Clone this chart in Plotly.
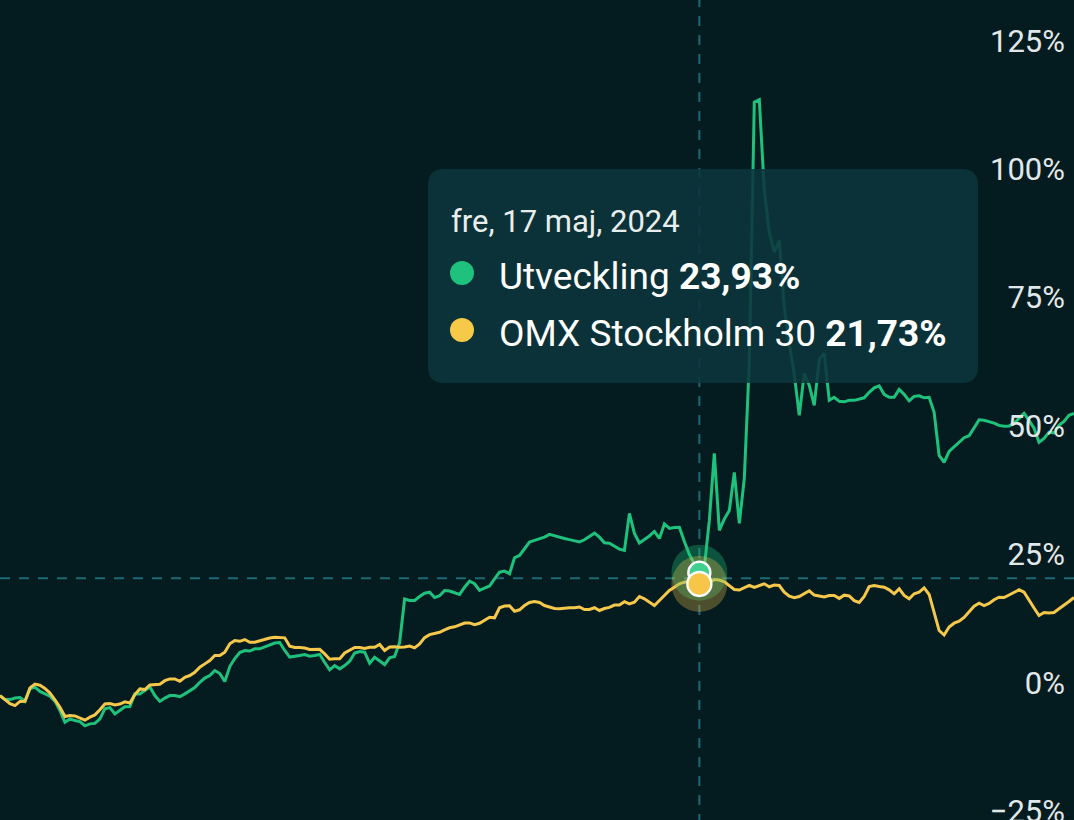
import plotly.graph_objects as go
import pandas as pd

# ---------------- data ----------------
dates = pd.bdate_range("2023-11-03", periods=216).strftime("%Y-%m-%d").tolist()
hover_date = "2024-05-17"

series_names = ["Utveckling", "OMX Stockholm 30"]

utveckling = [
    0.00, -0.78, -0.78, -0.49, -0.39, -1.11, 1.31, 1.64, 0.82, 0.27,
    -0.12, -1.07, -2.92, -5.20, -4.54, -4.87, -5.07, -5.88, -5.51, -5.42,
    -4.54, -2.59, -2.34, -3.57, -2.92, -2.18, -2.14, 0.33, 0.29, 0.97,
    1.66, 0.00, -1.13, -0.49, 0.00, 0.00, -0.23, 0.33, 0.97, 1.56,
    2.59, 3.41, 3.90, 4.87, 4.29, 2.73, 5.65, 7.21, 8.38, 8.77,
    8.67, 9.10, 9.10, 9.45, 9.84, 10.23, 10.33, 8.77, 7.50, 7.60,
    7.79, 7.99, 7.66, 7.79, 7.99, 6.43, 5.01, 5.84, 5.20, 5.84,
    6.68, 8.28, 8.57, 8.44, 6.29, 7.46, 6.68, 6.04, 7.34, 7.60,
    10.33, 18.80, 18.51, 18.51, 19.29, 19.93, 20.12, 19.09, 19.42, 20.46,
    20.34, 19.99, 19.68, 21.10, 22.27, 21.76, 20.46, 20.94, 21.33, 22.73,
    24.02, 24.22, 23.71, 26.83, 27.27, 28.58, 29.87, 30.20, 30.53, 30.84,
    31.37, 31.07, 30.84, 30.59, 30.35, 30.14, 29.92, 30.33, 31.03, 31.62,
    30.84, 29.73, 29.65, 29.03, 28.50, 28.25, 35.46, 31.56, 29.71, 30.39,
    31.07, 31.95, 30.59, 33.41, 32.53, 32.73, 32.77, 30.00, 27.47, 25.62,
    23.93, 24.94, 34.09, 47.15, 32.15, 34.39, 36.04, 43.44, 33.51, 42.28,
    64.81, 115.53, 116.01, 98.38, 90.20, 86.31, 88.64, 75.59, 68.38, 62.54,
    54.55, 62.73, 60.39, 56.50, 65.46, 66.63, 57.47, 58.06, 57.28, 57.18,
    57.47, 57.47, 57.67, 57.96, 59.03, 59.91, 60.30, 58.64, 58.06, 58.06,
    59.61, 58.64, 57.37, 58.25, 58.35, 57.96, 58.06, 55.13, 46.76, 45.39,
    47.54, 48.45, 49.23, 50.20, 50.59, 52.21, 53.67, 53.58, 53.38, 53.05,
    52.60, 52.41, 52.45, 52.99, 53.97, 54.94, 53.58, 52.06, 49.29, 50.07,
    51.24, 51.14, 52.60, 53.38, 54.55, 54.94,
]

omx = [
    0.00, -0.84, -1.56, -1.95, -1.13, -1.11, 1.50, 2.24, 2.01, 1.40,
    0.49, -0.82, -2.28, -4.09, -3.90, -3.96, -4.34, -4.79, -4.19, -3.76,
    -2.77, -1.64, -1.54, -1.81, -1.64, -1.21, -1.44, 0.19, 1.29, 1.17,
    2.07, 2.16, 2.22, 2.90, 3.25, 3.25, 2.79, 3.57, 3.90, 4.54,
    5.51, 6.17, 6.82, 7.79, 7.79, 8.44, 10.07, 10.70, 10.56, 10.91,
    10.38, 10.38, 10.68, 10.99, 11.20, 11.36, 11.36, 11.24, 9.60, 9.35,
    9.35, 9.25, 8.96, 8.96, 9.00, 8.12, 7.07, 7.15, 7.17, 8.28,
    8.77, 9.35, 9.37, 9.16, 9.39, 9.41, 9.94, 8.77, 9.45, 9.51,
    9.41, 9.45, 9.64, 9.29, 10.05, 11.28, 11.86, 12.10, 12.33, 12.80,
    13.19, 13.38, 13.70, 14.12, 14.14, 13.79, 14.07, 14.73, 15.23, 15.14,
    17.10, 17.42, 17.49, 16.42, 16.70, 17.53, 18.12, 18.31, 18.12, 17.53,
    17.20, 16.95, 16.89, 17.01, 17.09, 17.10, 17.24, 16.75, 16.77, 17.10,
    16.56, 16.95, 17.16, 17.61, 17.65, 18.27, 17.86, 18.18, 19.29, 18.84,
    18.18, 17.53, 18.51, 19.48, 20.46, 21.10, 21.76, 22.07, 22.27, 21.92,
    21.73, 21.82, 22.01, 22.60, 22.50, 22.13, 21.43, 20.65, 20.55, 20.94,
    21.43, 21.04, 21.43, 21.76, 21.18, 21.53, 21.43, 20.13, 19.37, 19.04,
    19.29, 19.81, 20.40, 19.56, 19.33, 19.19, 19.48, 19.48, 18.92, 19.54,
    19.39, 18.47, 18.12, 19.29, 21.24, 21.43, 21.24, 21.10, 20.59, 19.81,
    20.78, 19.48, 18.84, 19.81, 20.12, 20.96, 19.68, 15.98, 12.66, 11.79,
    13.35, 14.09, 14.47, 15.20, 16.40, 17.40, 17.98, 17.53, 17.92, 18.66,
    19.15, 19.09, 19.58, 20.01, 20.59, 20.12, 18.51, 17.05, 15.59, 16.17,
    16.07, 16.17, 16.89, 17.53, 18.31, 19.09,
]

y_ticks = [-25, 0, 25, 50, 75, 100, 125]
y_ticktext = ["\u221225%", "0%", "25%", "50%", "75%", "100%", "125%"]

weekday_sv = ["mån", "tis", "ons", "tor", "fre", "lör", "sön"]
month_sv = ["jan", "feb", "mar", "apr", "maj", "jun", "jul", "aug", "sep", "okt", "nov", "dec"]

# ---------------- style ----------------
W, H = 1074, 824          # bottom 4 px fall below the 820 px window, like the reference
BG = "#041b1f"
GREEN = "#1ec27d"
YELLOW = "#f5c84c"
CROSS = "#1b6a74"
FONT = "Roboto"

hi = dates.index(hover_date)
g_val = utveckling[hi]
y_val = omx[hi]
cross_y = (g_val + y_val) / 2

def fmt(v):
    return f"{v:.2f}".replace(".", ",") + "%"

d = pd.Timestamp(hover_date)
date_label = f"{weekday_sv[d.weekday()]}, {d.day} {month_sv[d.month - 1]}, {d.year}"

fig = go.Figure()

fig.add_trace(go.Scatter(x=dates, y=utveckling, mode="lines", name=series_names[0],
                         line=dict(color=GREEN, width=3), hoverinfo="skip"))
fig.add_trace(go.Scatter(x=dates, y=omx, mode="lines", name=series_names[1],
                         line=dict(color=YELLOW, width=3), hoverinfo="skip"))

# hover markers (halo + dot)
fig.add_trace(go.Scatter(x=[hover_date], y=[g_val], mode="markers", hoverinfo="skip",
                         marker=dict(size=56, color="rgba(30,194,125,0.33)", line=dict(width=0))))
fig.add_trace(go.Scatter(x=[hover_date], y=[y_val], mode="markers", hoverinfo="skip",
                         marker=dict(size=56, color="rgba(245,200,76,0.30)", line=dict(width=0))))
fig.add_trace(go.Scatter(x=[hover_date], y=[g_val], mode="markers", hoverinfo="skip",
                         marker=dict(size=22, color="#3fcf8e", line=dict(width=2.4, color="white"))))
fig.add_trace(go.Scatter(x=[hover_date], y=[y_val], mode="markers", hoverinfo="skip",
                         marker=dict(size=24, color="#f7c548", line=dict(width=2.4, color="white"))))

shapes = []
# crosshair
shapes.append(dict(type="line", xref="x", yref="paper", x0=hover_date, x1=hover_date, y0=0, y1=1,
                   line=dict(color=CROSS, width=2, dash="10px,9px"), layer="below"))
shapes.append(dict(type="line", xref="paper", yref="y", x0=0, x1=1, y0=cross_y, y1=cross_y,
                   line=dict(color=CROSS, width=2, dash="10px,9px"), layer="below"))

# tooltip box (rounded)
def px(x):
    return x / W

def py(y):
    return 1 - y / H

L, R, T, B, r = 428, 978, 169, 383, 16
path = (
    f"M {px(L + r)} {py(T)} L {px(R - r)} {py(T)} Q {px(R)} {py(T)} {px(R)} {py(T + r)} "
    f"L {px(R)} {py(B - r)} Q {px(R)} {py(B)} {px(R - r)} {py(B)} "
    f"L {px(L + r)} {py(B)} Q {px(L)} {py(B)} {px(L)} {py(B - r)} "
    f"L {px(L)} {py(T + r)} Q {px(L)} {py(T)} {px(L + r)} {py(T)} Z"
)
shapes.append(dict(type="path", xref="paper", yref="paper", path=path,
                   fillcolor="rgba(12,54,60,0.88)", line=dict(width=0), layer="above"))

# legend dots in tooltip
for cy, col in [(273, GREEN), (330, "#f7c948")]:
    shapes.append(dict(type="circle", xref="paper", yref="paper",
                       x0=px(462 - 12), x1=px(462 + 12), y0=py(cy + 12), y1=py(cy - 12),
                       fillcolor=col, line=dict(width=0), layer="above"))

annotations = [
    dict(xref="paper", yref="paper", x=px(449), y=py(221), xanchor="left", yanchor="middle",
         text=date_label, showarrow=False, font=dict(family=FONT, size=31, color="#e8eeee")),
    dict(xref="paper", yref="paper", x=px(497), y=py(276), xanchor="left", yanchor="middle",
         text=f"{series_names[0]} <b>{fmt(g_val)}</b>", showarrow=False,
         font=dict(family=FONT, size=37, color="#ffffff")),
    dict(xref="paper", yref="paper", x=px(497), y=py(333), xanchor="left", yanchor="middle",
         text=f"{series_names[1]} <b>{fmt(y_val)}</b>", showarrow=False,
         font=dict(family=FONT, size=37, color="#ffffff")),
]

fig.update_layout(
    width=W, height=H,
    margin=dict(l=0, r=0, t=0, b=0, pad=0, autoexpand=False),
    paper_bgcolor=BG, plot_bgcolor=BG,
    showlegend=False, hovermode=False,
    xaxis=dict(type="category", visible=False, range=[0, len(dates) - 1], automargin=False),
    yaxis=dict(side="right", range=[-25.0, 135.4], tickvals=y_ticks, ticktext=y_ticktext,
               automargin=False,
               ticklabelposition="inside top", ticklabeloverflow="allow",
               ticklabelstandoff=6, ticklabelshift=9,
               showgrid=False, zeroline=False, showline=False, ticks="",
               tickfont=dict(family=FONT, size=31, color="#e2e8e8")),
    shapes=shapes, annotations=annotations,
)

fig.write_html("out.html", config={"displayModeBar": False},
               post_script="document.body.style.margin='0';document.body.style.overflow='hidden';")
